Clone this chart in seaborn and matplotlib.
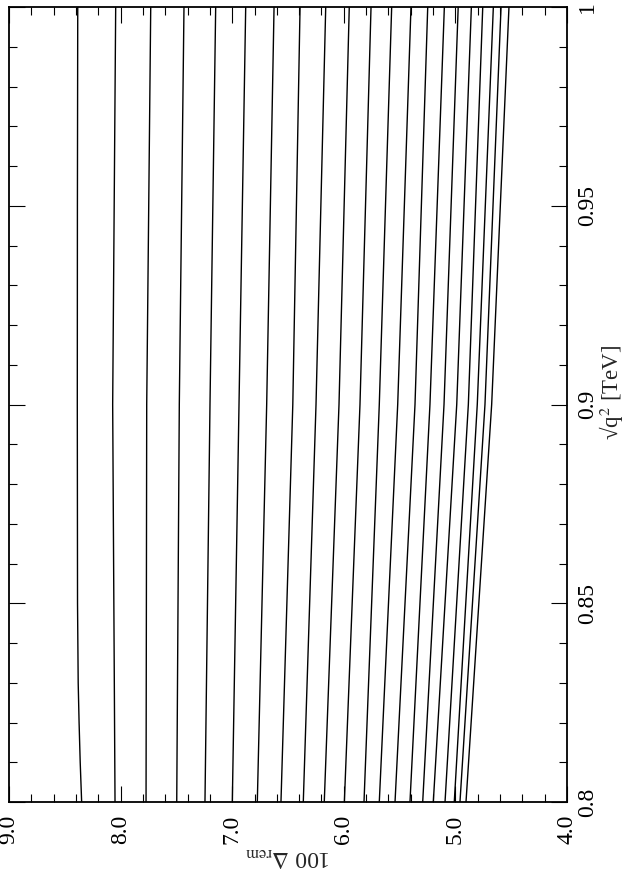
import matplotlib
matplotlib.use('Agg')
import matplotlib.pyplot as plt
from matplotlib.ticker import FixedLocator, MultipleLocator
import pandas as pd
import seaborn as sns

# sqrt(q^2) [TeV] at which the curves were read
q_points = [0.8, 0.9, 1.0]

# 100*Delta_rem of each curve at sqrt(q^2) = 0.8, 0.9 and 1.0
delta_q080 = [8.349, 8.050, 7.772, 7.497, 7.244, 6.999, 6.775, 6.563, 6.363, 6.175, 5.995,
              5.819, 5.682, 5.541, 5.407, 5.293, 5.198, 5.093, 5.010, 4.959, 4.905]
delta_q090 = [8.388, 8.071, 7.766, 7.474, 7.199, 6.939, 6.691, 6.457, 6.249, 6.043, 5.855,
              5.682, 5.517, 5.362, 5.228, 5.102, 4.988, 4.884, 4.804, 4.735, 4.675]
delta_q100 = [8.384, 8.044, 7.730, 7.432, 7.148, 6.879, 6.625, 6.392, 6.162, 5.951, 5.756,
              5.571, 5.398, 5.248, 5.099, 4.975, 4.857, 4.755, 4.660, 4.591, 4.520]

# the top curve bends near the low end, read at a few more points
top_curve_q = [0.8, 0.81, 0.82, 0.83, 0.85, 0.9, 0.95, 1.0]
top_curve_delta = [8.349, 8.362, 8.372, 8.380, 8.386, 8.388, 8.387, 8.384]

delta_ticks = [4.0, 5.0, 6.0, 7.0, 8.0, 9.0]
delta_labels = ['4.0', '5.0', '6.0', '7.0', '8.0', '9.0']
q_ticks = [0.8, 0.85, 0.9, 0.95, 1.0]
q_labels = ['0.8', '0.85', '0.9', '0.95', '1']

rows = []
for i in range(len(delta_q080)):
    if i == 0:
        for q, d in zip(top_curve_q, top_curve_delta):
            rows.append({'curve': i, 'q': q, 'delta': d})
        continue
    for q, d in zip(q_points, [delta_q080[i], delta_q090[i], delta_q100[i]]):
        rows.append({'curve': i, 'q': q, 'delta': d})
df = pd.DataFrame(rows)

sns.set_style('ticks')
plt.rcParams['font.family'] = ['Liberation Serif', 'DejaVu Serif']
plt.rcParams['mathtext.fontset'] = 'stix'

fig = plt.figure(figsize=(6.29, 8.72), dpi=100)
ax = fig.add_axes([9 / 629, 70 / 872, 558 / 629, 795 / 872])

# the page is turned: 100*Delta_rem runs across, sqrt(q^2) runs up
sns.lineplot(data=df, x='delta', y='q', units='curve', estimator=None, orient='y',
             color='black', linewidth=1.0, legend=False, ax=ax)

ax.set_xlim(9.0, 4.0)
ax.set_ylim(0.8, 1.0)

ax.xaxis.set_major_locator(FixedLocator(delta_ticks))
ax.set_xticklabels(delta_labels)
ax.xaxis.set_minor_locator(MultipleLocator(0.2))
ax.yaxis.set_major_locator(FixedLocator(q_ticks))
ax.set_yticklabels(q_labels)
ax.yaxis.set_minor_locator(MultipleLocator(0.01))

ax.tick_params(which='both', direction='in', top=True, bottom=True, left=True, right=True,
               labelleft=False, labelright=True, labelbottom=True, labeltop=False,
               width=0.8, colors='black')
ax.tick_params(which='major', length=11.5)
ax.tick_params(which='minor', length=5.8)
ax.tick_params(axis='x', pad=9, labelsize=17)
ax.tick_params(axis='y', pad=7, labelsize=17)

for lab in ax.get_xticklabels():
    lab.set_rotation(90)
    lab.set_ha('center')
    lab.set_va('top')
for lab in ax.get_yticklabels():
    lab.set_rotation(90)
    lab.set_ha('left')
    lab.set_va('center')

for sp in ax.spines.values():
    sp.set_linewidth(1.3)
    sp.set_color('black')

ax.set_xlabel(r'100 $\Delta_{\mathrm{rem}}$', rotation=180, fontsize=17, labelpad=1)
ax.yaxis.set_label_position('right')
ax.set_ylabel('\u221aq$^{2}$ [TeV]', rotation=90, fontsize=16.5)
ax.yaxis.set_label_coords(1.055, 0.515)

fig.savefig('out.png', dpi=100)
